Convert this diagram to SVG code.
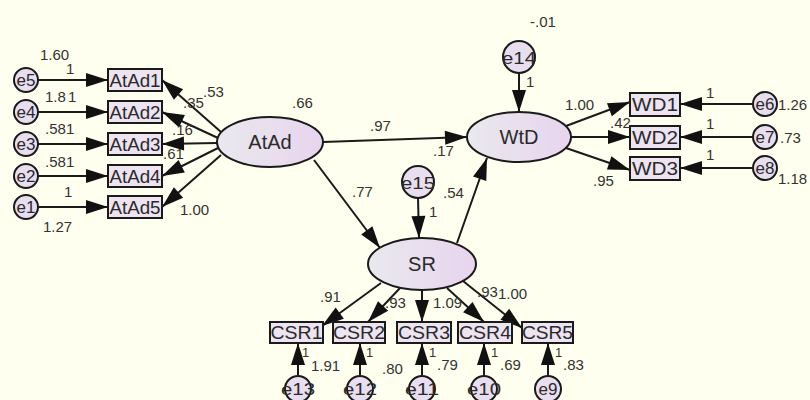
<svg xmlns="http://www.w3.org/2000/svg" width="810" height="400" viewBox="0 0 810 400">
<defs>
<linearGradient id="lat" x1="0" y1="0" x2="1" y2="0">
<stop offset="0" stop-color="#e9e9ee"/>
<stop offset="1" stop-color="#e8d4ee"/>
</linearGradient>
<marker id="ah" markerUnits="userSpaceOnUse" markerWidth="22" markerHeight="14" refX="22" refY="7" orient="auto" overflow="visible">
<path d="M0,0 L22,7 L0,14 z" fill="#111"/>
</marker>
<style>
.lat{fill:url(#lat);stroke:#1a1a1a;stroke-width:2}
.box{fill:#ede3f1;stroke:#1a1a1a;stroke-width:2}
.err{fill:#e9ddf0;stroke:#1a1a1a;stroke-width:2}
.c{stroke:#1a1a1a;stroke-width:2;fill:none;marker-end:url(#ah)}
text{font-family:"Liberation Sans",Arial,sans-serif;fill:#333}
.nt{font-size:20px;text-anchor:middle;fill:#2a2a2a}
.bt{font-size:18px;text-anchor:middle;fill:#2a2a2a}
.et{font-size:17px;text-anchor:middle;fill:#2a2a2a}
.lb{font-size:15px}
.sm{font-size:13px}
</style>
</defs>
<rect width="810" height="400" fill="#ffffef"/>

<g id="connectors">
<line class="c" x1="38" y1="80" x2="108" y2="80"/>
<line class="c" x1="38" y1="112" x2="108" y2="112"/>
<line class="c" x1="38" y1="144" x2="108" y2="144"/>
<line class="c" x1="38" y1="176" x2="108" y2="176"/>
<line class="c" x1="38" y1="207" x2="108" y2="207"/>
<line class="c" x1="221" y1="132" x2="162" y2="80"/>
<line class="c" x1="218" y1="138" x2="162" y2="112"/>
<line class="c" x1="217" y1="143" x2="162" y2="144"/>
<line class="c" x1="218" y1="148" x2="162" y2="176"/>
<line class="c" x1="221" y1="155" x2="162" y2="207"/>
<line class="c" x1="323" y1="142" x2="467" y2="137"/>
<line class="c" x1="314" y1="160" x2="380" y2="248"/>
<line class="c" x1="457" y1="243" x2="487" y2="158"/>
<line class="c" x1="519" y1="73" x2="519" y2="112"/>
<line class="c" x1="418" y1="198" x2="419" y2="238"/>
<line class="c" x1="566" y1="126" x2="630" y2="102"/>
<line class="c" x1="571" y1="137" x2="630" y2="137"/>
<line class="c" x1="566" y1="148" x2="630" y2="170"/>
<line class="c" x1="753" y1="104" x2="680" y2="104"/>
<line class="c" x1="753" y1="137" x2="680" y2="137"/>
<line class="c" x1="753" y1="168" x2="680" y2="168"/>
<line class="c" x1="381" y1="283" x2="322" y2="326"/>
<line class="c" x1="400" y1="288" x2="368" y2="322"/>
<line class="c" x1="422" y1="290" x2="422" y2="322"/>
<line class="c" x1="447" y1="288" x2="484" y2="322"/>
<line class="c" x1="463" y1="281" x2="522" y2="328"/>
<line class="c" x1="298" y1="375" x2="298" y2="343"/>
<line class="c" x1="360" y1="375" x2="360" y2="343"/>
<line class="c" x1="422" y1="375" x2="422" y2="343"/>
<line class="c" x1="484" y1="375" x2="484" y2="343"/>
<line class="c" x1="548" y1="375" x2="548" y2="343"/>
</g>

<g id="AtAd"><ellipse class="lat" cx="270" cy="142" rx="53" ry="25"/><text class="nt" x="270" y="149">AtAd</text></g>
<g id="WtD"><ellipse class="lat" cx="519" cy="137" rx="52" ry="25"/><text class="nt" x="519" y="144">WtD</text></g>
<g id="SR"><ellipse class="lat" cx="422" cy="264" rx="54" ry="26"/><text class="nt" x="422" y="271">SR</text></g>

<g id="AtAd1"><rect class="box" x="108" y="69" width="54" height="22"/><text class="bt" x="135" y="87" textLength="51" lengthAdjust="spacingAndGlyphs">AtAd1</text></g>
<g id="AtAd2"><rect class="box" x="108" y="101" width="54" height="22"/><text class="bt" x="135" y="119" textLength="51" lengthAdjust="spacingAndGlyphs">AtAd2</text></g>
<g id="AtAd3"><rect class="box" x="108" y="133" width="54" height="22"/><text class="bt" x="135" y="151" textLength="51" lengthAdjust="spacingAndGlyphs">AtAd3</text></g>
<g id="AtAd4"><rect class="box" x="108" y="165" width="54" height="22"/><text class="bt" x="135" y="183" textLength="51" lengthAdjust="spacingAndGlyphs">AtAd4</text></g>
<g id="AtAd5"><rect class="box" x="108" y="196" width="54" height="22"/><text class="bt" x="135" y="214" textLength="51" lengthAdjust="spacingAndGlyphs">AtAd5</text></g>

<g id="WD1"><rect class="box" x="630" y="93" width="50" height="23"/><text class="bt" x="655" y="111" textLength="46" lengthAdjust="spacingAndGlyphs">WD1</text></g>
<g id="WD2"><rect class="box" x="630" y="126" width="50" height="23"/><text class="bt" x="655" y="144" textLength="46" lengthAdjust="spacingAndGlyphs">WD2</text></g>
<g id="WD3"><rect class="box" x="630" y="157" width="50" height="23"/><text class="bt" x="655" y="175" textLength="46" lengthAdjust="spacingAndGlyphs">WD3</text></g>

<g id="CSR1"><rect class="box" x="270" y="322" width="53" height="21"/><text class="bt" x="296.5" y="339" textLength="52" lengthAdjust="spacingAndGlyphs">CSR1</text></g>
<g id="CSR2"><rect class="box" x="333" y="322" width="52" height="21"/><text class="bt" x="359" y="339" textLength="52" lengthAdjust="spacingAndGlyphs">CSR2</text></g>
<g id="CSR3"><rect class="box" x="397" y="322" width="54" height="21"/><text class="bt" x="424" y="339" textLength="52" lengthAdjust="spacingAndGlyphs">CSR3</text></g>
<g id="CSR4"><rect class="box" x="458" y="322" width="54" height="21"/><text class="bt" x="485" y="339" textLength="52" lengthAdjust="spacingAndGlyphs">CSR4</text></g>
<g id="CSR5"><rect class="box" x="522" y="322" width="51" height="21"/><text class="bt" x="547.5" y="339" textLength="51" lengthAdjust="spacingAndGlyphs">CSR5</text></g>

<g id="e5"><circle class="err" cx="26" cy="80" r="12"/><text class="et" x="26" y="86">e5</text></g>
<g id="e4"><circle class="err" cx="26" cy="112" r="12"/><text class="et" x="26" y="118">e4</text></g>
<g id="e3"><circle class="err" cx="26" cy="144" r="12"/><text class="et" x="26" y="150">e3</text></g>
<g id="e2"><circle class="err" cx="26" cy="176" r="12"/><text class="et" x="26" y="182">e2</text></g>
<g id="e1"><circle class="err" cx="26" cy="207" r="12"/><text class="et" x="26" y="213">e1</text></g>
<g id="e14"><circle class="err" cx="519" cy="57" r="16"/><text class="et" x="519" y="64" textLength="34" lengthAdjust="spacingAndGlyphs">e14</text></g>
<g id="e15"><circle class="err" cx="418" cy="182" r="16"/><text class="et" x="418" y="189" textLength="34" lengthAdjust="spacingAndGlyphs">e15</text></g>
<g id="e6"><circle class="err" cx="765" cy="104" r="12"/><text class="et" x="765" y="110">e6</text></g>
<g id="e7"><circle class="err" cx="765" cy="137" r="12"/><text class="et" x="765" y="143">e7</text></g>
<g id="e8"><circle class="err" cx="765" cy="168" r="12"/><text class="et" x="765" y="174">e8</text></g>
<g id="e13"><circle class="err" cx="298" cy="389" r="13"/><text class="et" x="298" y="395" textLength="34" lengthAdjust="spacingAndGlyphs">e13</text></g>
<g id="e12"><circle class="err" cx="360" cy="389" r="13"/><text class="et" x="360" y="395" textLength="34" lengthAdjust="spacingAndGlyphs">e12</text></g>
<g id="e11"><circle class="err" cx="422" cy="389" r="13"/><text class="et" x="422" y="395" textLength="34" lengthAdjust="spacingAndGlyphs">e11</text></g>
<g id="e10"><circle class="err" cx="484" cy="389" r="13"/><text class="et" x="484" y="395" textLength="34" lengthAdjust="spacingAndGlyphs">e10</text></g>
<g id="e9"><circle class="err" cx="548" cy="389" r="13"/><text class="et" x="548" y="395">e9</text></g>

<g id="labels">
<text class="lb" x="40" y="60">1.60</text>
<text class="lb" x="66" y="74">1</text>
<text class="lb" x="45" y="102">1.8</text>
<text class="lb" x="68" y="102">1</text>
<text class="lb" x="45" y="134">.58</text>
<text class="lb" x="66" y="134">1</text>
<text class="lb" x="45" y="167">.58</text>
<text class="lb" x="66" y="167">1</text>
<text class="lb" x="64" y="197">1</text>
<text class="lb" x="43" y="232">1.27</text>
<text class="lb" x="203" y="97">.53</text>
<text class="lb" x="183" y="108">.35</text>
<text class="lb" x="172" y="135">.16</text>
<text class="lb" x="163" y="159">.61</text>
<text class="lb" x="180" y="215">1.00</text>
<text class="lb" x="292" y="108">.66</text>
<text class="lb" x="370" y="131">.97</text>
<text class="lb" x="433" y="156">.17</text>
<text class="lb" x="352" y="197">.77</text>
<text class="lb" x="443" y="198">.54</text>
<text class="lb" x="429" y="217">1</text>
<text class="lb" x="530" y="27">-.01</text>
<text class="lb" x="526" y="87">1</text>
<text class="lb" x="565" y="110">1.00</text>
<text class="lb" x="610" y="128">.42</text>
<text class="lb" x="593" y="186">.95</text>
<text class="lb" x="706" y="98">1</text>
<text class="lb" x="706" y="129">1</text>
<text class="lb" x="706" y="160">1</text>
<text class="lb" x="778" y="110">1.26</text>
<text class="lb" x="780" y="143">.73</text>
<text class="lb" x="778" y="184">1.18</text>
<text class="lb" x="320" y="302">.91</text>
<text class="lb" x="385" y="308">.93</text>
<text class="lb" x="433" y="308">1.09</text>
<text class="lb" x="477" y="297">.93</text>
<text class="lb" x="498" y="299">1.00</text>
<text class="sm" x="302" y="357">1</text>
<text class="lb" x="311" y="371">1.91</text>
<text class="sm" x="366" y="357">1</text>
<text class="lb" x="382" y="374">.80</text>
<text class="sm" x="429" y="357">1</text>
<text class="lb" x="437" y="370">.79</text>
<text class="sm" x="491" y="357">1</text>
<text class="lb" x="500" y="370">.69</text>
<text class="sm" x="555" y="357">1</text>
<text class="lb" x="563" y="370">.83</text>
</g>
</svg>
